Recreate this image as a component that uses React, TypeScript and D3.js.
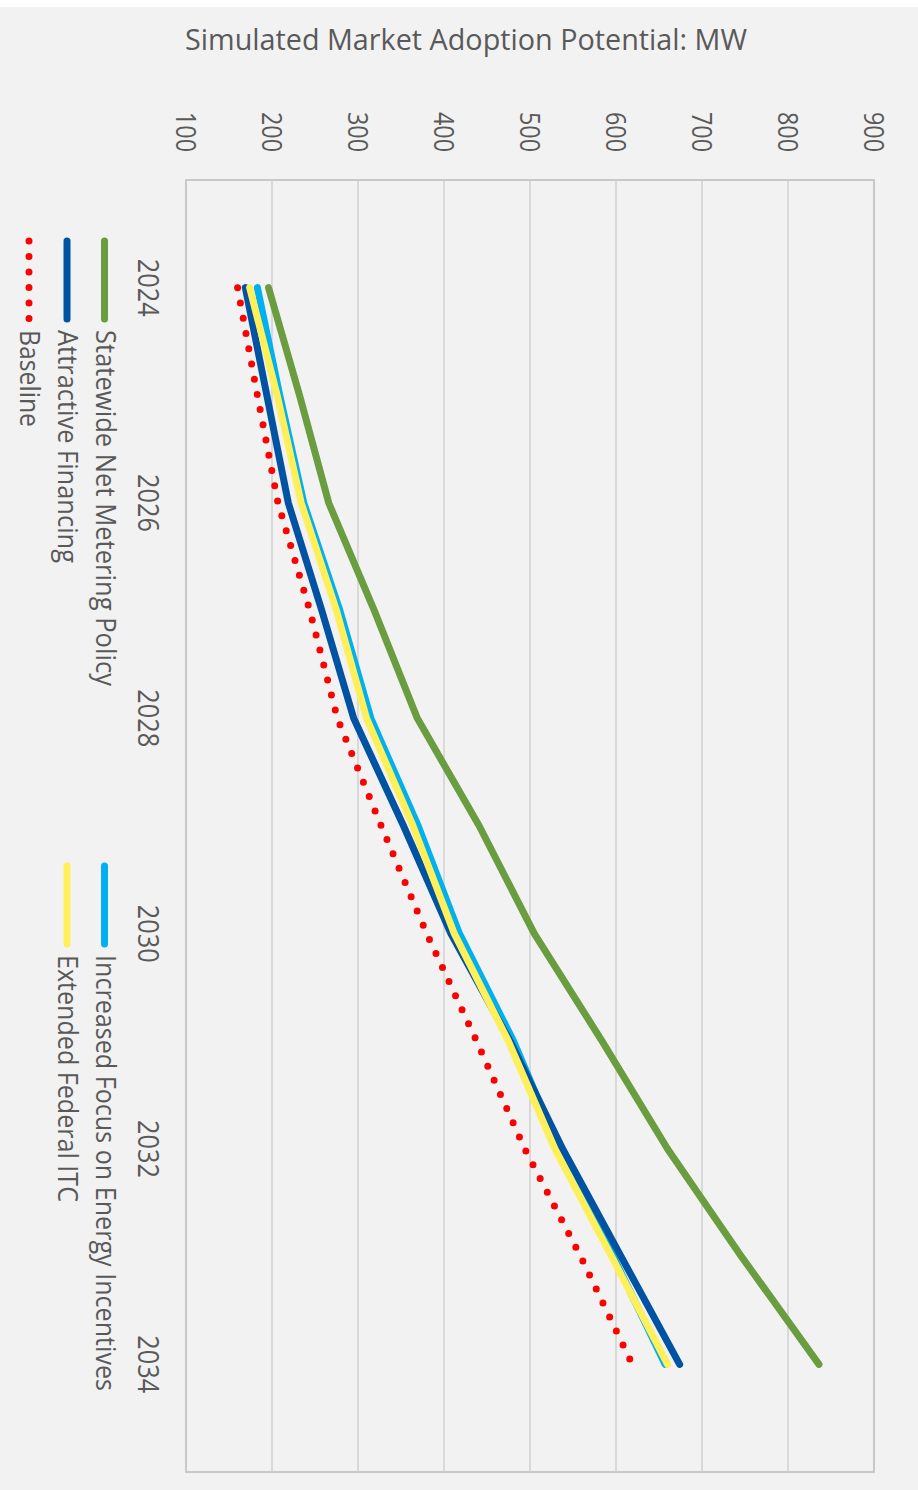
import React from 'react';
import * as d3 from 'd3';

const years = [2024, 2025, 2026, 2027, 2028, 2029, 2030, 2031, 2032, 2033, 2034];
const statewideNetMetering = [196, 232, 266, 319, 369, 441, 505, 584, 660, 746, 836];
const attractiveFinancing = [169, 194, 219, 258, 295, 353, 408, 477, 538, 606, 674];
const increasedFocus = [183, 209, 237, 279, 315, 370, 418, 481, 534, 597, 657];
const extendedITC = [174, 206, 234, 275, 310, 364, 412, 475, 529, 595, 660];
const baseline = [160, 183, 207, 244, 276, 327, 380, 438, 494, 559, 619];
const valueTicks = [100, 200, 300, 400, 500, 600, 700, 800, 900];
const yearTicks = [2024, 2026, 2028, 2030, 2032, 2034];

const TITLE = 'Simulated Market Adoption Potential: MW';
const TEXT = '#595959';
const FONT = "'Open Sans', 'Liberation Sans', sans-serif";

type Series = { name: string; values: number[]; color: string; dotted?: boolean };

const series: Series[] = [
  { name: 'Baseline', values: baseline, color: '#ff0000', dotted: true },
  { name: 'Increased Focus on Energy Incentives', values: increasedFocus, color: '#00b0f0' },
  { name: 'Attractive Financing', values: attractiveFinancing, color: '#0052a3' },
  { name: 'Extended Federal ITC', values: extendedITC, color: '#fff05a' },
  { name: 'Statewide Net Metering Policy', values: statewideNetMetering, color: '#6a9c40' },
];

export default function App() {
  const W = 918;
  const H = 1490;
  const left = 186, right = 874, top = 180, bottom = 1472;
  const x = d3.scaleLinear().domain([100, 900]).range([left, right]);
  const y = d3.scaleLinear().domain([2023, 2035]).range([top, bottom]);

  const line = d3
    .line<number>()
    .x((d) => x(d))
    .y((_, i) => y(years[i]));

  const legend = [
    { s: series[4], bx: 96, mx: 104.5, y0: 241, len: 356 },
    { s: series[2], bx: 58, mx: 67, y0: 241, len: 233 },
    { s: series[0], bx: 20, mx: 29, y0: 241, len: 97 },
    { s: series[1], bx: 96, mx: 104.5, y0: 866, len: 436 },
    { s: series[3], bx: 58, mx: 67, y0: 866, len: 247 },
  ];

  return (
    <svg
      width={W}
      height={H}
      style={{ position: 'absolute', left: 0, top: 0, display: 'block' }}
      fontFamily={FONT}
    >
      <rect x={0} y={0} width={W} height={H} fill="#ffffff" />
      <rect x={0} y={7} width={W} height={H - 7} fill="#f2f2f2" />

      <text x={466} y={50} textAnchor="middle" fontSize={29} fill={TEXT} textLength={562} lengthAdjust="spacingAndGlyphs">
        {TITLE}
      </text>

      {/* gridlines */}
      {valueTicks.map((v) => (
        <line key={v} x1={x(v)} x2={x(v)} y1={top} y2={bottom} stroke="#d9d9d9" strokeWidth={2} />
      ))}
      {/* plot border */}
      <rect x={left} y={top} width={right - left} height={bottom - top} fill="none" stroke="#c8c8c8" strokeWidth={2} />

      {/* value tick labels (rotated) */}
      {valueTicks.map((v) => (
        <text
          key={v}
          transform={`translate(${x(v) - 10},132) rotate(90)`}
          textAnchor="middle"
          fontSize={28}
          fill={TEXT}
          textLength={40}
          lengthAdjust="spacingAndGlyphs"
        >
          {v}
        </text>
      ))}

      {/* year labels (rotated) */}
      {yearTicks.map((yr) => (
        <text
          key={yr}
          transform={`translate(138,${y(yr)}) rotate(90)`}
          textAnchor="middle"
          fontSize={29}
          fill={TEXT}
          textLength={58}
          lengthAdjust="spacingAndGlyphs"
        >
          {yr}
        </text>
      ))}

      {/* series */}
      {series.map((s) => (
        <path
          key={s.name}
          d={line(s.values) || ''}
          fill="none"
          stroke={s.color}
          strokeWidth={7}
          strokeLinecap="round"
          strokeLinejoin="round"
          strokeDasharray={s.dotted ? '0 15.5' : undefined}
        />
      ))}

      {/* legend */}
      {legend.map((l) => (
        <g key={l.s.name}>
          <line
            x1={l.mx}
            x2={l.mx}
            y1={l.y0}
            y2={l.y0 + 78}
            stroke={l.s.color}
            strokeWidth={7}
            strokeLinecap="round"
            strokeDasharray={l.s.dotted ? '0 15.5' : undefined}
          />
          <text
            transform={`translate(${l.bx},${l.y0 + 89}) rotate(90)`}
            fontSize={27}
            fill={TEXT}
            textLength={l.len}
            lengthAdjust="spacingAndGlyphs"
          >
            {l.s.name}
          </text>
        </g>
      ))}
    </svg>
  );
}
